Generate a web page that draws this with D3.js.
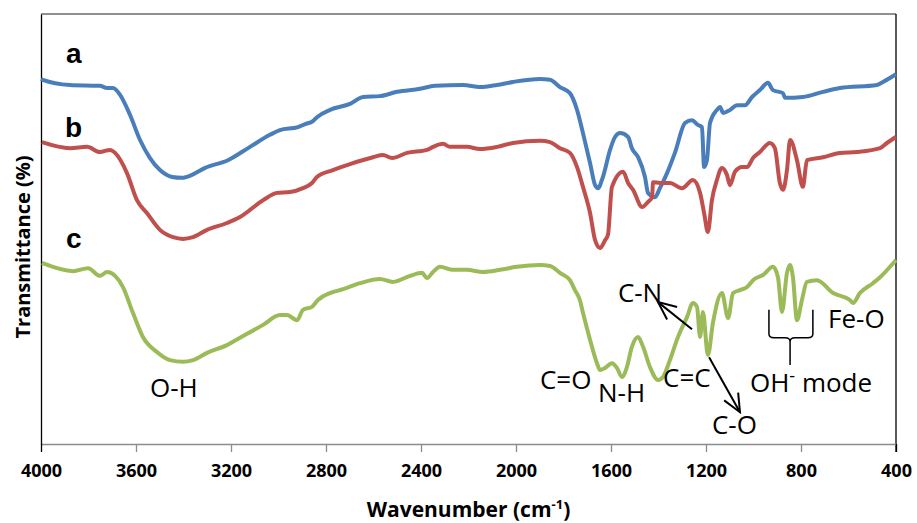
<!DOCTYPE html>
<html lang="en">
<head>
    <meta charset="utf-8">
    <title>FTIR spectra</title>
    <script src="https://d3js.org/d3.v7.min.js"></script>
    <style>
        body { margin: 0; background: #fff; }
    </style>
</head>
<body>
<div id="chart"></div>
<script>
    // Wavenumber (cm-1) / transmittance (arbitrary %)
    const seriesA = [
        [4000, 84.9], [3992, 84.7], [3878, 83.5], [3752, 83.3], [3722, 82.8], [3697, 82.8], [3667, 81.2],
        [3625, 76.5], [3583, 70.7], [3541, 66.5], [3499, 63.7], [3448, 62.1], [3406, 61.9], [3364, 62.6],
        [3309, 64.2], [3213, 66.0], [3120, 69.1], [3036, 71.9], [2994, 73.0], [2918, 73.7], [2888, 74.4],
        [2855, 75.1], [2838, 76.0], [2783, 77.7], [2699, 79.1], [2644, 80.7], [2573, 80.9], [2501, 81.9],
        [2404, 82.6], [2341, 83.3], [2223, 83.5], [2152, 83.0], [2080, 83.5], [2013, 84.2], [1899, 84.9],
        [1857, 84.7], [1815, 83.0], [1773, 81.6], [1743, 77.7], [1718, 72.3], [1688, 65.3], [1667, 60.2],
        [1655, 59.5], [1634, 62.1], [1604, 68.4], [1583, 71.4], [1562, 72.3], [1528, 71.4], [1512, 68.8],
        [1486, 66.7], [1457, 62.1], [1444, 58.4], [1415, 57.4], [1394, 59.5], [1364, 63.0], [1331, 67.7],
        [1288, 74.7], [1259, 75.3], [1234, 74.2], [1217, 73.7], [1208, 64.4], [1196, 66.0], [1183, 74.7],
        [1154, 77.7], [1141, 78.4], [1128, 77.0], [1099, 77.7], [1069, 78.8], [1036, 78.8], [1006, 80.7],
        [973, 82.3], [939, 84.0], [918, 82.3], [876, 81.6], [867, 80.5], [792, 80.7], [707, 81.9],
        [636, 82.8], [480, 83.5], [455, 84.2], [400, 86.0]
    ];
    const seriesB = [
        [3996, 70.2], [3878, 68.8], [3806, 69.1], [3752, 67.9], [3709, 68.4], [3688, 67.7], [3638, 63.0],
        [3596, 56.7], [3554, 53.7], [3499, 49.8], [3444, 48.1], [3402, 47.7], [3360, 48.1], [3301, 49.8],
        [3217, 51.4], [3162, 52.8], [3065, 56.7], [3006, 58.4], [2952, 58.6], [2897, 59.5], [2859, 60.7],
        [2838, 62.1], [2771, 63.7], [2699, 65.1], [2602, 66.7], [2560, 67.2], [2522, 66.5], [2459, 67.7],
        [2375, 68.4], [2349, 69.1], [2307, 69.8], [2278, 69.1], [2206, 69.1], [2152, 68.6], [2080, 69.1],
        [2013, 70.0], [1899, 70.5], [1857, 70.2], [1815, 68.8], [1773, 67.7], [1743, 64.4], [1718, 59.8],
        [1688, 53.7], [1667, 47.4], [1646, 45.6], [1625, 47.4], [1613, 48.6], [1596, 59.8], [1549, 63.3],
        [1528, 60.7], [1507, 59.1], [1469, 55.1], [1444, 56.3], [1427, 57.4], [1423, 60.9], [1394, 60.7],
        [1352, 60.7], [1301, 59.5], [1255, 61.4], [1225, 58.4], [1208, 53.7], [1192, 49.3], [1175, 56.7],
        [1154, 61.4], [1133, 64.2], [1112, 62.6], [1099, 60.2], [1078, 63.3], [1048, 64.4], [1027, 64.4],
        [1002, 66.5], [973, 67.9], [931, 70.0], [910, 68.8], [889, 60.7], [876, 59.1], [859, 63.7],
        [846, 70.7], [817, 66.0], [792, 59.8], [775, 66.0], [707, 66.7], [636, 67.7], [564, 67.9],
        [467, 68.8], [438, 70.0], [400, 71.4]
    ];
    const seriesC = [
        [3996, 42.1], [3865, 40.2], [3802, 40.9], [3752, 39.1], [3722, 40.0], [3688, 39.1], [3655, 36.5],
        [3613, 30.5], [3571, 24.9], [3512, 21.4], [3457, 19.5], [3402, 19.1], [3360, 19.5], [3301, 21.2],
        [3217, 23.0], [3162, 24.7], [3065, 27.7], [2994, 30.0], [2964, 30.0], [2922, 28.8], [2897, 31.2],
        [2859, 31.9], [2834, 33.5], [2783, 35.1], [2728, 36.0], [2657, 37.4], [2573, 38.4], [2518, 37.7],
        [2446, 39.1], [2396, 39.8], [2375, 38.6], [2349, 40.0], [2320, 41.2], [2265, 40.5], [2206, 40.5],
        [2139, 40.0], [2067, 40.5], [1996, 41.2], [1899, 41.6], [1857, 41.4], [1815, 39.8], [1773, 38.1],
        [1752, 35.8], [1731, 33.5], [1718, 30.5], [1688, 24.2], [1659, 18.8], [1646, 17.2], [1625, 17.7],
        [1596, 18.8], [1575, 17.7], [1554, 15.6], [1533, 17.9], [1512, 22.6], [1486, 24.9], [1465, 22.6],
        [1436, 17.9], [1402, 14.9], [1381, 15.6], [1352, 19.5], [1318, 24.9], [1280, 29.5], [1255, 32.8],
        [1238, 31.9], [1225, 24.9], [1213, 30.7], [1192, 20.7], [1171, 28.1], [1133, 35.1], [1107, 29.3],
        [1086, 35.1], [1057, 35.8], [1027, 36.5], [1002, 38.1], [960, 39.3], [918, 41.2], [897, 38.8],
        [880, 30.7], [859, 39.8], [846, 41.6], [834, 38.8], [817, 28.8], [796, 33.5], [775, 37.7],
        [733, 38.1], [665, 35.1], [594, 33.5], [581, 32.8], [552, 35.1], [497, 37.4], [467, 38.8],
        [400, 42.8]
    ];
    const xTicks = [4000, 3600, 3200, 2800, 2400, 2000, 1600, 1200, 800, 400];

    // series letters and band labels, positioned in data units (left edge, baseline)
    const seriesLabels = [["a", 3895, 88.6], ["b", 3899, 71.4], ["c", 3895, 45.6]];
    const bandLabels = [
        ["O-H", 3541, 10.9], ["C=O", 1899, 12.8], ["N-H", 1655, 9.8], ["C=C", 1381, 13.3],
        ["C-N", 1571, 33.0], ["C-O", 1175, 2.3], ["Fe-O", 686, 27.0]
    ];
    // arrows: [fromW, fromT, toW, toT]
    const arrows = [[1259, 26.7, 1402, 33.0], [1187, 20.2, 1057, 7.4]];

    const width = 917, height = 523;
    const margin = {top: 14, right: 21, bottom: 79, left: 41};

    const svg = d3.select("#chart")
        .append("svg")
        .attr("width", width)
        .attr("height", height);

    const x = d3.scaleLinear()
        .domain([4000, 400])
        .range([margin.left, width - margin.right]);
    const y = d3.scaleLinear()
        .domain([0, 100])
        .range([height - margin.bottom, margin.top]);

    const y0 = height - margin.bottom;

    // frame
    svg.append("line")
        .attr("x1", x(4000)).attr("x2", x(400))
        .attr("y1", y(100)).attr("y2", y(100))
        .attr("stroke", "#6b6b6b").attr("stroke-width", 1.3);
    svg.append("line")
        .attr("x1", x(400)).attr("x2", x(400))
        .attr("y1", y(100)).attr("y2", y0 + 8)
        .attr("stroke", "#000").attr("stroke-width", 1.3);

    // bottom axis
    const xAxis = svg.append("g")
        .attr("transform", `translate(0,${y0})`)
        .call(d3.axisBottom(x).tickValues(xTicks).tickSize(8).tickSizeOuter(0).tickFormat(d3.format("d")));
    xAxis.select(".domain").attr("stroke", "#8c8c8c").attr("stroke-width", 1.5);
    xAxis.selectAll(".tick line").attr("stroke", d => (d === 4000 || d === 400) ? "#000" : "#8c8c8c").attr("stroke-width", 1.3);
    xAxis.selectAll(".tick text")
        .attr("y", 20)
        .style("font-family", "'Open Sans', sans-serif")
        .style("font-weight", "bold")
        .style("font-size", "18px")
        .attr("fill", "#000");

    // left axis
    const yAxis = svg.append("g")
        .attr("transform", `translate(${margin.left},0)`)
        .call(d3.axisLeft(y).tickValues([]).tickSizeOuter(0));
    yAxis.select(".domain").attr("stroke", "#000").attr("stroke-width", 1.3);

    // spectra
    const line = d3.line()
        .x(d => x(d[0]))
        .y(d => y(d[1]))
        .curve(d3.curveMonotoneX);

    const series = [
        {data: seriesA, color: "#4A7EBB"},
        {data: seriesB, color: "#C0504D"},
        {data: seriesC, color: "#9BBB59"}
    ];
    svg.selectAll(".spectrum")
        .data(series)
        .join("path")
        .attr("class", "spectrum")
        .attr("d", d => line(d.data))
        .attr("fill", "none")
        .attr("stroke", d => d.color)
        .attr("stroke-width", 4)
        .attr("stroke-linejoin", "round");

    // axis titles
    const xTitle = svg.append("text")
        .attr("x", (x(4000) + x(400)) / 2 + 0)
        .attr("y", 517)
        .attr("text-anchor", "middle")
        .style("font-family", "'Open Sans', sans-serif")
        .style("font-weight", "bold")
        .style("font-size", "21px");
    xTitle.append("tspan").text("Wavenumber (cm");
    xTitle.append("tspan").attr("dy", -8).style("font-size", "13px").text("-1");
    xTitle.append("tspan").attr("dy", 8).text(")");

    svg.append("text")
        .attr("transform", `translate(30,247) rotate(-90)`)
        .attr("text-anchor", "middle")
        .style("font-family", "'Open Sans', sans-serif")
        .style("font-weight", "bold")
        .style("font-size", "20px")
        .text("Transmittance (%)");

    // series letters
    svg.selectAll(".series-label")
        .data(seriesLabels)
        .join("text")
        .attr("class", "series-label")
        .attr("x", d => x(d[1]))
        .attr("y", d => y(d[2]))
        .style("font-family", "'Liberation Sans', Arial, sans-serif")
        .style("font-weight", "bold")
        .style("font-size", "28px")
        .text(d => d[0]);

    // band annotations
    svg.selectAll(".band-label")
        .data(bandLabels)
        .join("text")
        .attr("class", "band-label")
        .attr("x", d => x(d[1]))
        .attr("y", d => y(d[2]))
        .style("font-family", "'Open Sans', sans-serif")
        .style("font-size", "26px")
        .text(d => d[0]);

    const ohLabel = svg.append("text")
        .attr("x", x(1015))
        .attr("y", y(12.1))
        .style("font-family", "'Open Sans', sans-serif")
        .style("font-size", "26px");
    ohLabel.append("tspan").text("OH");
    ohLabel.append("tspan").attr("dy", -10).style("font-size", "18px").text("-");
    ohLabel.append("tspan").attr("dy", 10).text(" mode");

    // arrows
    svg.append("defs").append("marker")
        .attr("id", "arrow")
        .attr("markerUnits", "userSpaceOnUse")
        .attr("viewBox", "0 0 22 20")
        .attr("markerWidth", 22).attr("markerHeight", 20)
        .attr("refX", 20).attr("refY", 10)
        .attr("orient", "auto")
        .append("path")
        .attr("d", "M2,2 L20,10 L2,18")
        .attr("fill", "none")
        .attr("stroke", "#000")
        .attr("stroke-width", 2);

    svg.selectAll(".arrow")
        .data(arrows)
        .join("line")
        .attr("class", "arrow")
        .attr("x1", d => x(d[0])).attr("y1", d => y(d[1]))
        .attr("x2", d => x(d[2])).attr("y2", d => y(d[3]))
        .attr("stroke", "#000")
        .attr("stroke-width", 2)
        .attr("marker-end", "url(#arrow)");

    // brace under the OH- bands
    const bL = x(935), bR = x(750), bM = x(846);
    const bTop = y(31.2), bMid = y(24.7), bBot = y(18.4);
    svg.append("path")
        .attr("d", `M${bL},${bTop} L${bL},${bMid - 4} Q${bL},${bMid} ${bL + 5},${bMid} L${bM - 5},${bMid} Q${bM},${bMid} ${bM},${bMid + 4} L${bM},${bBot}
                    M${bM},${bMid + 4} Q${bM},${bMid} ${bM + 5},${bMid} L${bR - 5},${bMid} Q${bR},${bMid} ${bR},${bMid - 4} L${bR},${bTop}`)
        .attr("fill", "none")
        .attr("stroke", "#000")
        .attr("stroke-width", 1.5);
</script>
</body>
</html>
